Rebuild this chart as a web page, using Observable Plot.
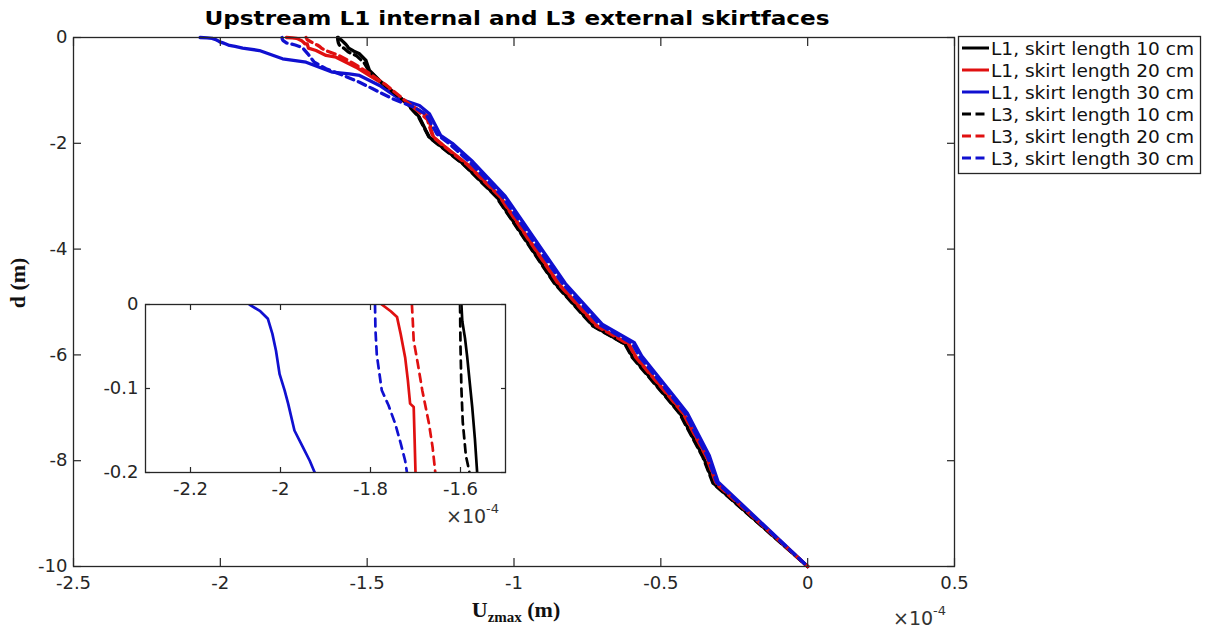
<!DOCTYPE html>
<html><head><meta charset="utf-8">
<script src="https://cdn.jsdelivr.net/npm/d3@7"></script>
<script src="https://cdn.jsdelivr.net/npm/@observablehq/plot@0.6"></script>
<style>
body{margin:0;background:#fff;}
#wrap{position:relative;width:1206px;height:630px;overflow:hidden;background:#fff;}
#main,#inset,#legend,#over{position:absolute;left:0;top:0;}
#inset{left:95px;top:294px;}
</style></head><body><div id="wrap"><div id="main"></div><div id="inset"></div><svg id="over" width="1206" height="630"></svg></div>
<script>
// values of U_zmax are in units of 1e-4 m, depth d in m
const xTicks = [-2.5, -2, -1.5, -1, -0.5, 0, 0.5];
const yTicks = [0, -2, -4, -6, -8, -10];
const insetXTicks = [-2.2, -2, -1.8, -1.6];
const insetYTicks = [0, -0.1, -0.2];
const seriesNames = ["L1, skirt length 10 cm","L1, skirt length 20 cm","L1, skirt length 30 cm","L3, skirt length 10 cm","L3, skirt length 20 cm","L3, skirt length 30 cm"];
const seriesColors = ["#000000","#e01010","#1010d0","#000000","#e01010","#1010d0"];
const seriesDashed = [false,false,false,true,true,true];

const L1_10 = [[-1.598,0],[-1.596,-0.02],[-1.590,-0.04],[-1.585,-0.063],[-1.580,-0.09],[-1.574,-0.122],[-1.568,-0.16],[-1.563,-0.2],[-1.545,-0.26],[-1.526,-0.308],[-1.504,-0.435],[-1.492,-0.624],[-1.458,-0.813],[-1.424,-0.97],[-1.368,-1.223],[-1.322,-1.507],[-1.300,-1.758],[-1.288,-1.885],[-1.25,-2.05],[-1.17,-2.4],[-1.06,-3.0],[-0.86,-4.65],[-0.73,-5.45],[-0.62,-5.8],[-0.595,-6.05],[-0.48,-6.8],[-0.435,-7.1],[-0.355,-7.93],[-0.32,-8.43],[0,-10]];
const L1_20 = [[-1.775,0],[-1.755,-0.008],[-1.741,-0.015],[-1.733,-0.035],[-1.723,-0.063],[-1.717,-0.09],[-1.712,-0.118],[-1.704,-0.122],[-1.702,-0.16],[-1.700,-0.2],[-1.674,-0.246],[-1.640,-0.34],[-1.606,-0.372],[-1.572,-0.467],[-1.538,-0.561],[-1.492,-0.718],[-1.436,-0.907],[-1.379,-1.191],[-1.322,-1.38],[-1.29,-1.5],[-1.282,-1.75],[-1.274,-1.88],[-1.238,-2.05],[-1.158,-2.4],[-1.048,-3.0],[-0.848,-4.65],[-0.718,-5.45],[-0.608,-5.8],[-0.583,-6.05],[-0.468,-6.8],[-0.423,-7.1],[-0.343,-7.93],[-0.31,-8.43],[0,-10]];
const L1_30 = [[-2.069,0],[-2.045,-0.008],[-2.028,-0.017],[-2.018,-0.035],[-2.010,-0.055],[-2.002,-0.083],[-1.991,-0.102],[-1.983,-0.118],[-1.969,-0.15],[-1.950,-0.17],[-1.935,-0.186],[-1.924,-0.2],[-1.867,-0.246],[-1.788,-0.403],[-1.708,-0.467],[-1.663,-0.561],[-1.618,-0.656],[-1.561,-0.686],[-1.526,-0.718],[-1.458,-0.907],[-1.39,-1.159],[-1.322,-1.285],[-1.288,-1.442],[-1.25,-1.85],[-1.21,-2.0],[-1.14,-2.35],[-1.03,-3.0],[-0.825,-4.65],[-0.70,-5.42],[-0.59,-5.77],[-0.565,-6.02],[-0.455,-6.78],[-0.41,-7.1],[-0.335,-7.9],[-0.305,-8.4],[0,-10]];
const L3_10 = [[-1.601,0],[-1.600,-0.05],[-1.598,-0.1],[-1.595,-0.14],[-1.588,-0.18],[-1.580,-0.2],[-1.565,-0.27],[-1.535,-0.35],[-1.51,-0.48],[-1.495,-0.62],[-1.462,-0.8],[-1.43,-0.95],[-1.372,-1.21],[-1.325,-1.5],[-1.302,-1.75],[-1.29,-1.88],[-1.252,-2.05],[-1.172,-2.4],[-1.062,-3.0],[-0.862,-4.65],[-0.732,-5.45],[-0.622,-5.8],[-0.597,-6.05],[-0.482,-6.8],[-0.437,-7.1],[-0.357,-7.93],[-0.322,-8.43],[0,-10]];
const L3_20 = [[-1.708,0],[-1.706,-0.02],[-1.704,-0.043],[-1.695,-0.07],[-1.685,-0.102],[-1.670,-0.142],[-1.662,-0.17],[-1.656,-0.2],[-1.64,-0.25],[-1.60,-0.33],[-1.55,-0.48],[-1.50,-0.65],[-1.44,-0.88],[-1.38,-1.15],[-1.325,-1.4],[-1.295,-1.55],[-1.284,-1.75],[-1.276,-1.88],[-1.24,-2.05],[-1.16,-2.4],[-1.05,-3.0],[-0.85,-4.65],[-0.72,-5.45],[-0.61,-5.8],[-0.585,-6.05],[-0.47,-6.8],[-0.425,-7.1],[-0.345,-7.93],[-0.312,-8.43],[0,-10]];
const L3_30 = [[-1.790,0],[-1.789,-0.03],[-1.786,-0.06],[-1.775,-0.102],[-1.760,-0.12],[-1.745,-0.142],[-1.733,-0.165],[-1.723,-0.186],[-1.719,-0.2],[-1.702,-0.308],[-1.68,-0.467],[-1.64,-0.59],[-1.58,-0.72],[-1.526,-0.845],[-1.481,-0.97],[-1.413,-1.159],[-1.34,-1.32],[-1.30,-1.45],[-1.262,-1.83],[-1.222,-2.0],[-1.15,-2.36],[-1.04,-3.0],[-0.835,-4.65],[-0.708,-5.43],[-0.598,-5.78],[-0.573,-6.03],[-0.462,-6.79],[-0.418,-7.1],[-0.342,-7.91],[-0.31,-8.41],[0,-10]];
const seriesData = [L1_10, L1_20, L1_30, L3_10, L3_20, L3_30];

const fmt = d => String(d);
const axisColor = "#262626";

function lineMarks(width, dash, clip) {
  return seriesData.map((data, i) => Plot.line(data, {
    x: d => d[0], y: d => d[1], stroke: seriesColors[i], strokeWidth: width,
    strokeDasharray: seriesDashed[i] ? dash : null, clip, curve: "linear"
  }));
}

const main = Plot.plot({
  width: 1206, height: 630,
  marginLeft: 73, marginRight: 252, marginTop: 37, marginBottom: 64,
  style: {fontFamily: "DejaVu Sans, sans-serif", fontSize: "18px", color: axisColor, background: "transparent"},
  x: {domain: [-2.5, 0.5]},
  y: {domain: [-10, 0]},
  marks: [
    ...lineMarks(3.3, "8,5", false),
    Plot.frame({stroke: axisColor, strokeWidth: 1.3}),
    Plot.axisX(xTicks, {anchor: "bottom", tickSize: -8, tickPadding: 18, tickFormat: fmt, label: null, strokeWidth: 1.2}),
    Plot.axisX(xTicks, {anchor: "top", tickSize: -8, tickFormat: () => "", label: null, strokeWidth: 1.2}),
    Plot.axisY(yTicks, {anchor: "left", tickSize: -8, tickPadding: 14, tickFormat: fmt, label: null, strokeWidth: 1.2}),
    Plot.axisY(yTicks, {anchor: "right", tickSize: -8, tickFormat: () => "", label: null, strokeWidth: 1.2})
  ]
});
document.getElementById("main").appendChild(main);

const inset = Plot.plot({
  width: 420, height: 218,
  marginLeft: 50, marginRight: 10, marginTop: 10, marginBottom: 40,
  style: {fontFamily: "DejaVu Sans, sans-serif", fontSize: "18px", color: axisColor, background: "transparent"},
  x: {domain: [-2.3, -1.5]},
  y: {domain: [-0.2, 0]},
  marks: [
    Plot.frame({fill: "white"}),
    ...lineMarks(2.7, "8,6", true),
    Plot.frame({stroke: axisColor, strokeWidth: 1.3}),
    Plot.axisX(insetXTicks, {anchor: "bottom", tickSize: -5, tickPadding: 15, tickFormat: fmt, label: null, strokeWidth: 1.2}),
    Plot.axisX(insetXTicks, {anchor: "top", tickSize: -5, tickFormat: () => "", label: null, strokeWidth: 1.2}),
    Plot.axisY(insetYTicks, {anchor: "left", tickSize: -5, tickPadding: 12, tickFormat: fmt, label: null, strokeWidth: 1.2}),
    Plot.axisY(insetYTicks, {anchor: "right", tickSize: -5, tickFormat: () => "", label: null, strokeWidth: 1.2})
  ]
});
document.getElementById("inset").appendChild(inset);

// overlay: title, axis labels, exponent labels, legend
const svg = d3.select("#over");
svg.append("text").attr("x", 517).attr("y", 25).attr("text-anchor", "middle")
  .attr("font-family", "DejaVu Sans, sans-serif").attr("font-weight", "bold").attr("font-size", 20)
  .attr("textLength", 625).attr("lengthAdjust", "spacingAndGlyphs").attr("fill", "#000")
  .text("Upstream L1 internal and L3 external skirtfaces");

const xl = svg.append("text").attr("x", 516).attr("y", 617).attr("text-anchor", "middle")
  .attr("font-family", "Liberation Serif, Times New Roman, serif").attr("font-weight", "bold").attr("font-size", 22).attr("fill", "#111");
xl.append("tspan").text("U");
xl.append("tspan").attr("font-size", 15).attr("dy", 5).text("zmax");
xl.append("tspan").attr("dy", -5).text(" (m)");

svg.append("text").attr("transform", "translate(25,283) rotate(-90)").attr("text-anchor", "middle")
  .attr("font-family", "Liberation Serif, Times New Roman, serif").attr("font-weight", "bold").attr("font-size", 22).attr("fill", "#111")
  .text("d (m)");

function expLabel(x, y) {
  const t = svg.append("text").attr("x", x).attr("y", y).attr("font-family", "DejaVu Sans, sans-serif").attr("font-size", 19).attr("fill", "#333");
  t.append("tspan").text("×10");
  t.append("tspan").attr("font-size", 13).attr("dy", -10).text("-4");
}
expLabel(893, 625);
expLabel(446, 523);

const lg = svg.append("g");
lg.append("rect").attr("x", 958.5).attr("y", 36.5).attr("width", 242).attr("height", 137)
  .attr("fill", "white").attr("stroke", axisColor).attr("stroke-width", 1.3);
seriesNames.forEach((name, i) => {
  const cy = 48 + i * 22;
  lg.append("line").attr("x1", 962).attr("x2", 989).attr("y1", cy).attr("y2", cy)
    .attr("stroke", seriesColors[i]).attr("stroke-width", 3)
    .attr("stroke-dasharray", seriesDashed[i] ? "9,4.5" : null);
  lg.append("text").attr("x", 991).attr("y", cy + 6.5).attr("font-family", "DejaVu Sans, sans-serif")
    .attr("font-size", 18).attr("textLength", 203).attr("lengthAdjust", "spacingAndGlyphs").attr("fill", "#111").text(name);
});
</script></body></html>
